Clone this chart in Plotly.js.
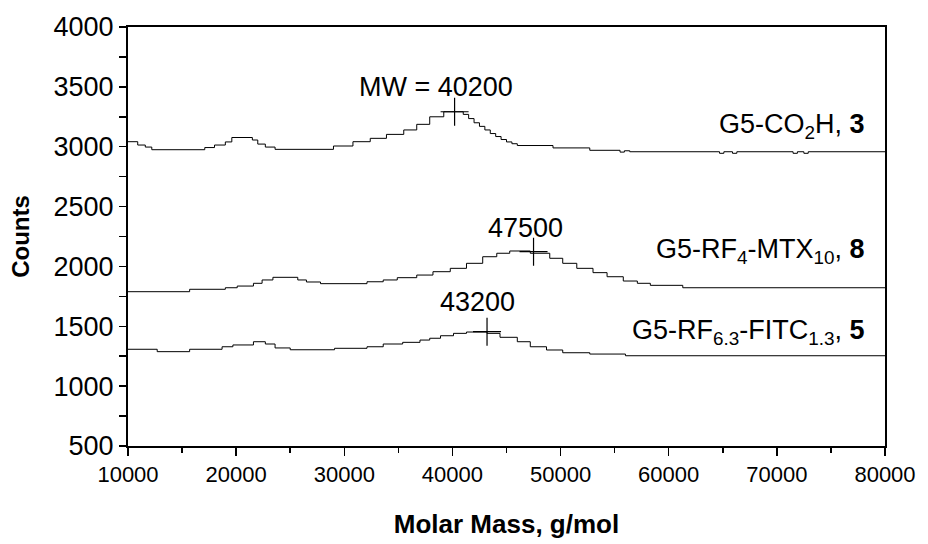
<!DOCTYPE html>
<html>
<head>
<meta charset="utf-8">
<script src="https://cdn.plot.ly/plotly-3.0.1.min.js"></script>
<style>html,body{margin:0;padding:0;background:#fff;}#chart{width:928px;height:544px;}</style>
</head>
<body>
<div id="chart"></div>
<script>
// Series: G5-CO2H, 3 (step levels)
var co2hMass = [10000, 10900, 11600, 12200, 17100, 18000, 19000, 19600, 21500, 22000, 22700, 23600,
  29000, 30800, 32400, 33900, 35500, 36700, 37900, 39200, 41000, 41500, 42000, 42500, 43000, 43500,
  44000, 44500, 45000, 45500, 46000, 49300, 52700, 55500, 55900, 56400, 64700, 65100, 65900, 66300,
  71500, 71900, 72500, 72900, 80000];
var co2hCounts = [3042, 3014, 2997, 2975, 2993, 3014, 3040, 3077, 3056, 3022, 2997, 2978,
  3006, 3042, 3070, 3103, 3140, 3187, 3250, 3292, 3270, 3235, 3200, 3170, 3140, 3110,
  3085, 3060, 3040, 3025, 3010, 2990, 2970, 2955, 2966, 2958, 2945, 2958, 2945, 2958,
  2945, 2958, 2945, 2958, 2958];

// Series: G5-RF4-MTX10, 8
var mtxMass = [10000, 15700, 19000, 20100, 21600, 22400, 23400, 25700, 26500, 27800, 32100, 33600,
  34900, 36700, 38200, 39800, 41300, 42800, 44100, 45300, 47200, 49000, 50200, 51500, 53000, 54300,
  55800, 57100, 58300, 61300, 80000];
var mtxCounts = [1789, 1809, 1822, 1836, 1859, 1887, 1909, 1887, 1870, 1856, 1872, 1887,
  1906, 1928, 1956, 1984, 2026, 2081, 2110, 2129, 2110, 2068, 2026, 1984, 1948, 1914,
  1878, 1859, 1842, 1822, 1822];

// Series: G5-RF6.3-FITC1.3, 5
var fitcMass = [10000, 12700, 15700, 18700, 19700, 21600, 22700, 23600, 25000, 29100, 32100, 33600,
  35400, 37000, 37900, 38900, 40100, 41300, 43200, 44400, 46000, 47200, 48700, 50200, 52700, 56000, 80000];
var fitcCounts = [1308, 1288, 1308, 1329, 1344, 1371, 1352, 1319, 1304, 1316, 1329, 1352,
  1366, 1385, 1400, 1421, 1441, 1452, 1441, 1408, 1371, 1329, 1302, 1279, 1268, 1254, 1254];

// Peak markers (MW)
var peakMass = [40200, 47500, 43200];
var peakCounts = [3292, 2123, 1455];
var peakLabels = ['MW = 40200', '47500', '43200'];

var seriesLabels = ['G5-CO<sub>2</sub>H, <b>3</b>', 'G5-RF<sub>4</sub>-MTX<sub>10</sub>, <b>8</b>',
  'G5-RF<sub>6.3</sub>-FITC<sub>1.3</sub>, <b>5</b>'];
var seriesLabelY = [3175, 2125, 1455];

var xTicks = [10000, 20000, 30000, 40000, 50000, 60000, 70000, 80000];
var yTicks = [500, 1000, 1500, 2000, 2500, 3000, 3500, 4000];

var lineStyle = {color: '#000', width: 1, shape: 'hv'};
var traces = [
  {x: co2hMass, y: co2hCounts, mode: 'lines', line: lineStyle, hoverinfo: 'skip'},
  {x: mtxMass, y: mtxCounts, mode: 'lines', line: lineStyle, hoverinfo: 'skip'},
  {x: fitcMass, y: fitcCounts, mode: 'lines', line: lineStyle, hoverinfo: 'skip'},
  {x: peakMass, y: peakCounts, mode: 'markers',
   marker: {symbol: 'cross-thin', size: 20, line: {color: '#000', width: 1.2}}, hoverinfo: 'skip'}
];

var font = 'Liberation Sans, Arial, sans-serif';
var annotations = [];
var peakLabelPos = [[38500, 3495], [46800, 2325], [42360, 1705]];
for (var i = 0; i < peakLabels.length; i++) {
  annotations.push({x: peakLabelPos[i][0], y: peakLabelPos[i][1], xref: 'x', yref: 'y', text: peakLabels[i],
    showarrow: false, xanchor: 'center', yanchor: 'middle', font: {family: font, size: 27, color: '#000'}});
}
for (var j = 0; j < seriesLabels.length; j++) {
  annotations.push({x: 78350, y: seriesLabelY[j], xref: 'x', yref: 'y', text: seriesLabels[j],
    showarrow: false, xanchor: 'right', yanchor: 'middle', font: {family: font, size: 27, color: '#000'}});
}

var layout = {
  width: 928, height: 544,
  margin: {l: 128, r: 43, t: 27, b: 98},
  paper_bgcolor: '#fff', plot_bgcolor: '#fff',
  showlegend: false,
  font: {family: font, color: '#000'},
  xaxis: {
    range: [10000, 80000], tickvals: xTicks, ticktext: xTicks.map(String),
    ticks: 'outside', ticklen: 8, tickwidth: 1.5, tickcolor: '#000',
    minor: {dtick: 5000, tick0: 10000, ticks: 'outside', ticklen: 5, tickwidth: 1.5, tickcolor: '#000'},
    showline: true, linecolor: '#000', linewidth: 2, mirror: true,
    showgrid: false, zeroline: false,
    tickfont: {family: font, size: 22, color: '#000'},
    title: {text: '<b>Molar Mass, g/mol</b>', font: {family: font, size: 26, color: '#000'}, standoff: 28}
  },
  yaxis: {
    range: [500, 4000], tickvals: yTicks, ticktext: yTicks.map(String),
    ticks: 'outside', ticklen: 7, tickwidth: 1.5, tickcolor: '#000',
    minor: {dtick: 250, tick0: 500, ticks: 'outside', ticklen: 7, tickwidth: 1.5, tickcolor: '#000'},
    showline: true, linecolor: '#000', linewidth: 2, mirror: true,
    showgrid: false, zeroline: false,
    tickfont: {family: font, size: 27, color: '#000'},
    title: {text: '<b>Counts</b>', font: {family: font, size: 24, color: '#000'}, standoff: 17}
  },
  annotations: annotations
};

Plotly.newPlot('chart', traces, layout, {staticPlot: true, displayModeBar: false});
</script>
</body>
</html>
